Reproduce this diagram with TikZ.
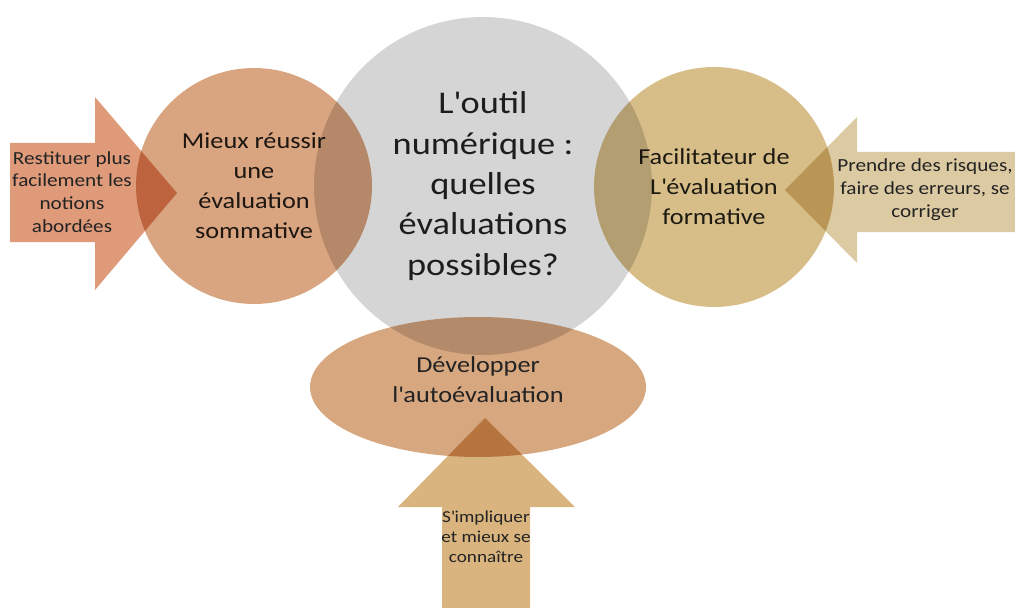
\documentclass[tikz,border=0pt]{standalone}
\usepackage{fontspec}
\setmainfont{Carlito}[FakeStretch=1.15]
\usepackage{tikz}
\usetikzlibrary{shapes.geometric}

\definecolor{gris}{RGB}{213,213,213}
\definecolor{saumon}{RGB}{217,164,128}
\definecolor{saumonfleche}{RGB}{223,154,122}
\definecolor{sable}{RGB}{215,190,136}
\definecolor{sablefleche}{RGB}{220,202,163}
\definecolor{ocre}{RGB}{215,167,127}
\definecolor{ocrefleche}{RGB}{217,180,127}
\definecolor{texte}{RGB}{35,35,35}

\tikzset{
  bulle/.style={circle, inner sep=0pt, align=center, text=texte},
  grand/.style={font=\fontsize{18}{23}\selectfont},
  moyen/.style={font=\fontsize{13}{17}\selectfont},
  petit/.style={font=\fontsize{10.5}{13}\selectfont},
  mini/.style={font=\fontsize{9.5}{11.3}\selectfont},
  legende/.style={align=center, inner sep=0pt, text=texte}
}

\begin{document}
\begin{tikzpicture}[x=0.02cm, y=-0.02cm]
  \useasboundingbox (0,0) rectangle (1015,608);
  \begin{scope}[blend mode=multiply]
    \node[bulle, fill=gris, minimum size=6.76cm, grand] (outil) at (483,186)
      {L\textquotesingle outil\\numérique :\\quelles\\évaluations\\possibles?};
    \node[bulle, fill=saumon, minimum size=4.72cm, moyen] (sommative) at (254,186)
      {Mieux réussir\\une\\évaluation\\sommative};
    \node[bulle, fill=sable, minimum size=4.8cm, moyen] (formative) at (714,187)
      {Facilitateur de\\L\textquotesingle évaluation\\formative};
    \node[ellipse, fill=ocre, inner sep=0pt, minimum width=6.72cm, minimum height=2.8cm] (auto) at (478,387) {};

    \fill[saumonfleche] (10,143) -- (95,143) -- (95,97) -- (177,193) -- (95,290) -- (95,242) -- (10,242) -- cycle;
    \fill[sablefleche] (1015,152) -- (857,152) -- (857,117) -- (785,190) -- (857,263) -- (857,232) -- (1015,232) -- cycle;
    \fill[ocrefleche] (442,608) -- (442,507) -- (398,507) -- (485,418) -- (575,507) -- (530,507) -- (530,608) -- cycle;
  \end{scope}

  \node[legende, moyen] (autotexte) at (478,380) {Développer\\l\textquotesingle autoévaluation};
  \node[legende, petit] (restituer) at (72,192) {Restituer plus\\facilement les\\notions\\abordées};
  \node[legende, petit] (risques) at (925,190) {Prendre des risques,\\faire des erreurs, se\\corriger};
  \node[legende, mini] (impliquer) at (486,537) {S\textquotesingle impliquer\\et mieux se\\connaître};
\end{tikzpicture}
\end{document}
